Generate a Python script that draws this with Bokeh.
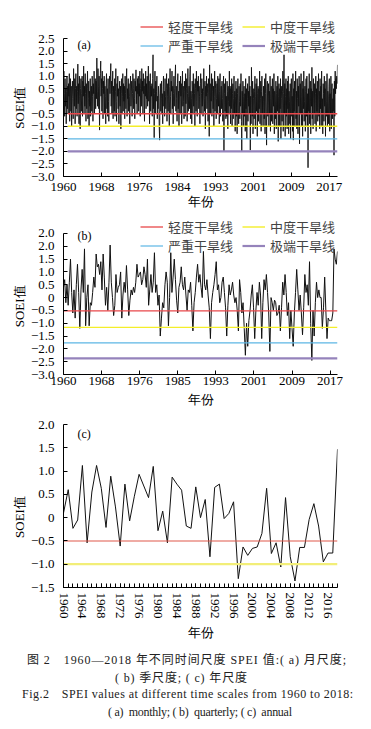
import numpy as np
from bokeh.plotting import figure
from bokeh.models import Range1d, FixedTicker, Legend, LegendItem, Label, Div
from bokeh.layouts import column
from bokeh.embed import file_html
from bokeh.resources import INLINE

SERIF = "Liberation Serif"
CJK = "Noto Sans CJK SC"

# ---------------- data ----------------
# (a) monthly SPEI 1960-2018, one row per year
spei_monthly = [
    0.8, 1.2, 0.3, -0.6, 0.9, -0.2, 0.5, -0.9, 0.4, 1.0, -0.3, 0.6,
    -0.5, 0.7, 0.2, 1.1, -0.8, 0.3, 0.9, -0.4, 0.6, -1.0, 0.2, 0.8,
    0.1, -0.7, 1.3, 0.4, -0.2, 0.9, -0.9, 0.5, 1.1, -0.3, 0.6, -0.6,
    0.4, 1.48, -0.1, 0.7, -0.9, 1.0, 0.2, -1.1, 0.5, 0.9, -0.4, 0.3,
    1.0, -0.6, 0.8, 0.2, 1.4, -0.5, 0.6, -0.2, 1.1, 0.3, -0.8, 0.7,
    -0.3, 0.5, 1.2, -0.7, 0.1, 0.8, -1.0, 0.4, -0.2, 0.9, -0.6, 0.3,
    0.6, -0.4, 1.0, 0.2, -0.8, 0.7, 0.3, 1.2, -0.5, 0.4, 0.9, -0.3,
    0.8, 0.1, 1.72, 0.4, -0.2, 1.3, 0.6, -0.3, 1.0, -1.15, 0.5, 1.1,
    1.6, 0.2, 0.9, -0.4, 1.2, 0.5, -0.7, 0.8, 0.3, 1.0, -0.5, 0.6,
    0.2, -0.9, 0.7, 1.1, -0.3, 0.5, -0.6, 0.9, 0.0, -0.8, 0.6, 1.0,
    0.3, 1.0, 1.5, -0.2, 0.8, -0.5, 0.4, 1.2, -0.7, 0.6, 0.1, -0.4,
    0.9, -0.6, 0.4, 1.3, 0.0, -0.8, 0.7, 0.2, 1.0, -0.3, 0.5, -0.9,
    0.4, 0.8, -0.2, 0.6, -1.1, 0.3, 0.9, -0.5, 0.2, 1.1, -0.4, 0.7,
    0.0, 0.6, -0.7, 1.0, 0.3, -0.3, 0.8, 1.3, -0.6, 0.5, 0.1, 0.9,
    -0.4, 0.7, 0.2, -0.9, 0.6, 1.0, -0.2, 0.4, 0.8, -0.6, 0.3, 1.1,
    0.5, -0.3, 0.9, 0.1, -0.7, 0.8, 0.4, 1.25, -0.1, 0.6, -0.5, 0.9,
    0.3, 1.0, -0.4, 0.7, 0.2, 1.2, -0.6, 0.5, 0.9, -0.2, 1.3, 0.4,
    0.8, -0.5, 1.1, 0.3, 0.6, -0.8, 0.9, 0.2, 1.2, -0.3, 0.7, 0.1,
    1.0, -0.2, 0.5, 1.4, 0.0, 0.8, -0.9, 0.4, 1.1, -0.4, 0.6, 0.2,
    0.7, -0.6, 0.9, 1.85, -0.3, 0.5, -1.45, 0.3, 1.2, -0.5, 0.8, 0.0,
    0.4, 1.0, -0.7, 0.2, -0.3, 0.6, 0.1, -1.0, -1.55, 0.3, 0.7, -0.4,
    0.1, 0.8, -0.5, 0.3, -0.9, 0.6, 1.0, -0.2, 0.4, -0.6, 0.9, 0.2,
    -0.3, 0.5, 1.1, -0.8, 0.2, 0.7, -0.4, 0.9, 0.0, -1.0, 0.6, 1.3,
    0.2, -0.5, 0.8, 0.4, 1.2, -0.3, 0.6, -0.9, 0.3, 1.0, -0.2, 0.5,
    0.9, 1.45, -0.4, 0.6, 0.1, -0.8, 0.7, 1.1, -0.3, 0.4, -1.0, 0.8,
    0.3, -0.5, 1.0, 0.2, 0.7, -0.9, 0.5, 1.2, -0.2, 0.6, 0.0, -0.7,
    0.8, 0.4, -0.6, 1.1, -0.1, 0.5, 0.9, -0.8, 0.3, 1.3, -0.4, 0.2,
    0.6, -0.3, 1.0, 1.4, -0.7, 0.4, 0.1, -0.9, 0.8, 0.3, -0.5, 1.1,
    -0.2, 0.7, 0.3, -1.0, 0.9, 0.5, -0.4, 1.2, 0.0, -0.6, 0.8, 0.4,
    1.0, -0.3, 0.6, 0.2, -0.9, 0.7, 1.1, -0.5, 0.3, 0.9, -0.2, 0.5,
    -0.6, 0.4, 1.3, 0.1, -0.4, 0.8, -1.1, 0.6, 0.2, 1.0, -0.3, 0.7,
    0.3, -0.8, 0.9, 0.5, -1.4, 1.45, 0.2, -0.5, 0.7, 0.0, 1.1, -0.6,
    0.4, 0.9, -0.3, 0.6, -1.0, 0.2, 1.2, -0.4, 0.5, 0.8, -0.7, 0.1,
    0.7, -0.5, 1.0, 0.3, -0.2, 0.9, -0.9, 0.4, 1.1, -0.6, 0.2, 0.6,
    -0.3, 0.8, 0.1, -0.8, 0.5, 1.0, -2.0, 0.3, 0.7, -0.4, 0.9, -0.7,
    0.2, -0.6, 0.8, 0.4, -1.1, 0.6, 0.0, -0.5, 1.2, -0.2, 0.5, -0.9,
    0.6, -0.3, 0.9, -1.0, 0.3, 0.7, -0.7, 0.1, 1.0, -0.5, 0.4, -1.2,
    0.2, 0.8, -0.6, 0.5, -1.3, 0.3, 0.9, -0.4, -0.9, 0.6, 0.0, -0.7,
    0.7, -0.2, 1.1, -0.8, -2.0, 0.4, -0.5, 0.8, -1.0, 0.2, 0.6, -0.6,
    0.3, -1.2, 0.9, -0.3, 0.5, -1.5, 0.1, 0.7, -0.8, 0.4, -0.2, 1.0,
    -0.5, 0.6, -1.95, 0.2, -0.9, 1.35, 0.3, -0.6, 0.8, -1.3, 0.1, 0.5,
    -0.7, 0.4, 1.0, -1.1, 0.2, 0.7, -0.4, 0.9, -1.4, 0.3, 0.6, -0.8,
    0.5, -0.3, 1.2, -0.9, 0.1, 0.8, -1.2, 0.4, 1.0, -0.5, 0.2, -1.0,
    0.6, 0.0, -0.7, 0.9, -1.3, 0.3, 1.1, -0.4, -1.75, 0.5, 0.8, -0.6,
    0.2, 0.7, -1.0, 0.4, -0.5, 1.0, -1.2, 0.1, 0.6, -0.8, 0.3, 0.9,
    -0.9, 0.5, -0.2, 1.1, -1.3, 0.4, 0.0, -0.7, 0.8, -1.1, 0.3, 0.6,
    -0.4, 1.0, -1.6, 0.2, 0.7, -1.0, 0.5, -0.3, 0.9, -1.5, 0.1, 0.6,
    -0.8, 0.4, 1.2, -1.2, 0.3, 1.85, -0.5, 0.7, -1.4, 0.2, 0.9, -0.6,
    0.5, -1.1, 0.8, -0.3, 1.0, -1.3, 0.4, 0.0, -0.9, 0.7, -1.5, 0.3,
    0.9, -0.6, 0.2, -1.2, 1.1, -1.55, 0.5, -0.4, 0.8, -1.0, 0.3, 1.2,
    -0.7, 0.4, -1.1, 0.9, 0.1, -1.3, 0.6, -0.2, 1.0, -1.7, 0.3, 0.7,
    -0.5, 1.1, -1.0, 0.2, 0.8, -1.4, 0.5, -0.3, 1.2, -0.8, 0.0, 0.6,
    -1.2, 0.4, 0.9, -0.6, 1.0, -1.0, 0.3, -2.65, 0.5, -0.4, 1.1, -0.9,
    0.2, 0.8, -1.3, 0.5, -0.2, 1.35, -0.7, 0.4, -1.1, 0.9, 0.1, -0.5,
    0.7, -0.9, 0.3, 1.0, -1.2, 0.5, -0.4, 0.8, -0.8, 0.2, 1.1, -0.6,
    0.4, -1.1, 0.9, -0.3, 0.6, -1.0, 1.2, -0.5, 0.1, -1.3, 0.7, 0.3,
    -0.8, 1.0, -0.2, 0.5, -1.4, 0.8, 0.0, -0.6, 1.1, -1.0, 0.4, 0.2,
    -0.9, 0.6, 0.9, -1.2, 0.3, -0.5, 1.0, -1.1, 0.4, 0.7, -0.7, 0.1,
    -0.4, 0.5, -2.15, 0.8, -0.6, 1.2, 0.3, 0.9, 0.5, 1.0, 0.7, 1.45,
]

# (b) quarterly SPEI 1960-2018, one row per year
spei_quarterly = [
    0.4, 0.7, -0.2, 0.5,
    -0.3, 0.6, 1.5, 0.2,
    -0.6, 0.3, -0.8, 0.5,
    1.3, 0.2, -1.2, 0.3,
    1.1, 0.2, 1.9, -1.1,
    0.0, 0.5, -1.1, -0.2,
    -0.3, 0.2, 0.8, 0.4,
    1.7, 1.2, 1.3, 0.9,
    1.4, 0.3, 1.7, 0.8,
    -0.3, 0.4, -0.5, 0.6,
    2.05, 0.6, 0.0, -0.7,
    -0.3, 0.9, 0.2, 0.4,
    0.5, 1.0, -0.8, 0.1,
    0.6, 0.2, 1.25, 0.3,
    -0.7, -0.1, 0.3, 0.1,
    0.4, 0.2, 0.6, 1.3,
    0.8, 0.9, 1.0, 0.5,
    0.7, 1.2, 0.9, 0.4,
    1.5, -0.3, 0.3, 0.9,
    0.2, 0.6, 1.75, 0.2,
    0.5, -0.3, 0.1, -1.5,
    -0.8, -0.2, -0.4, 0.5,
    1.0, 0.6, -1.1, 0.0,
    1.75, 0.2, 0.8, 1.5,
    0.7, -0.1, -0.6, 0.4,
    0.6, 1.2, 0.5, 0.3,
    0.8, 0.1, -0.5, 0.3,
    0.2, 0.6, -0.3, -1.3,
    -0.2, 0.2, 0.8, 1.3,
    0.6, 0.9, 0.4, 0.0,
    1.8, 0.5, 0.3, 0.7,
    0.1, -0.4, -1.6, -0.2,
    0.2, 0.5, 0.9, 1.4,
    0.3, 0.5, -0.2, 0.0,
    0.6, 0.8, 0.2, -0.4,
    -1.5, -0.3, 0.5, 0.1,
    0.3, 0.6, 0.1, -0.2,
    0.0, -0.5, -1.3, 0.7,
    0.2, -0.6, -0.2, -1.2,
    -2.25, -1.0, -1.9, -0.9,
    -0.5, 0.1, 0.5, -0.4,
    -1.6, -0.5, 0.2, -0.3,
    0.6, 0.1, -1.6, -0.2,
    0.7, 0.3, 0.9, 0.2,
    -0.6, -2.1, 0.0, -0.2,
    -0.5, -0.1, -0.2, -0.7,
    -0.6, -0.3, -1.3, -0.4,
    0.6, 0.1, 0.9, 0.2,
    -0.7, -0.2, -1.6, -0.5,
    -1.2, -1.9, -0.6, 0.2,
    1.1, 0.3, -0.5, 0.1,
    -0.6, -1.45, -0.4, 0.9,
    0.2, 0.5, -0.3, 1.4,
    -1.0, -2.45, -0.5, -1.5,
    -0.2, 0.6, 0.0, 0.3,
    0.0, 0.0, -1.2, -0.4,
    0.8, -0.5, -1.6, -0.8,
    -0.9, -0.9, -0.9, -0.6,
    1.9, 1.5, 1.3, 1.8,
]

# (c) annual SPEI
years_annual = list(range(1960, 2019))
spei_annual = [
    0.10, 0.60, -0.23, -0.05, 1.12, -0.54, 0.55, 1.12, 0.63, -0.21,
    0.89, 0.23, -0.61, 0.72, -0.07, 0.46, 0.93, 0.68, 0.43, 1.10,
    -0.28, 0.14, -0.54, 0.87, 0.72, 0.59, -0.18, -0.23, 0.66, 0.00,
    0.39, -0.84, 0.65, 0.72, -0.02, 0.09, 0.34, -1.31, -0.63, -0.81,
    -0.66, -0.63, -0.34, 0.63, -0.77, -0.54, -1.06, 0.43, -0.84, -1.36,
    -0.64, -0.64, -0.04, 0.30, -0.18, -0.95, -0.76, -0.76, 1.47,
]

threshold_names = ["轻度干旱线", "中度干旱线", "严重干旱线", "极端干旱线"]
thresholds_a = [-0.5, -1.0, -1.5, -2.0]
thresholds_b = [-0.52, -1.16, -1.77, -2.37]
thresholds_c = [-0.5, -1.0]
threshold_colors = ["#e8474a", "#f4ee2a", "#5cb6e4", "#9583bb"]
threshold_widths = [1.3, 1.4, 1.2, 2.2]

xtick_labels_a = ["1960", "1968", "1976", "1984", "1993", "2001", "2009", "2017"]
xtick_labels_b = ["1960", "1968", "1976", "1985", "1993", "2001", "2009", "2017"]
ytick_vals_ab = [-3.0, -2.5, -2.0, -1.5, -1.0, -0.5, 0.0, 0.5, 1.0, 1.5, 2.0, 2.5]
ytick_labels_a = ["−3.0", "−2.5", "−2.0", "−1.5", "−1.0", "−0.5", "0", "0.5", "1.0", "1.5", "2.0", "2.5"]
ytick_labels_b = ["−3.0", "−2.5", "−2.0", "−1.5", "−1.0", "−0.5", "0", "0.5", "1.0", "1.5", "2.0", "2.0"]
ytick_vals_c = [-1.5, -1.0, -0.5, 0.0, 0.5, 1.0, 1.5, 2.0]
ytick_labels_c = ["−1.5", "−1.0", "−0.5", "0", "0.5", "1.0", "1.5", "2.0"]
xtick_years_c = list(range(1960, 2017, 4))

caption_lines = [
    "图 2　1960—2018 年不同时间尺度 SPEI 值:( a) 月尺度;",
    "( b) 季尺度; ( c) 年尺度",
    "Fig.2　SPEI values at different time scales from 1960 to 2018:",
    "( a)  monthly; ( b)  quarterly; ( c)  annual",
]

FW = 274          # frame width (px)
LEFT = 63         # frame left edge on the page


def base_fig(frame_h, top, bottom, xr, yr, ybounds, ylabel_pad):
    p = figure(frame_width=FW, frame_height=frame_h, x_range=xr, y_range=yr,
               title=None, output_backend="svg", toolbar_location=None,
               min_border_left=LEFT, min_border_right=26,
               min_border_top=top, min_border_bottom=bottom)
    p.outline_line_color = None
    p.grid.visible = False
    p.background_fill_color = "white"
    p.border_fill_color = "white"
    for ax in (p.xaxis[0], p.yaxis[0]):
        ax.axis_line_color = "black"
        ax.axis_line_width = 1
        ax.major_tick_in = 4
        ax.major_tick_out = 0
        ax.minor_tick_in = 0
        ax.minor_tick_out = 0
        ax.major_tick_line_color = "black"
        ax.major_label_text_font = SERIF
        ax.major_label_text_font_size = "13px"
        ax.major_label_text_color = "black"
        ax.axis_label_text_font = SERIF
        ax.axis_label_text_font_size = "13px"
        ax.axis_label_text_font_style = "normal"
        ax.axis_label_text_color = "black"
    p.yaxis[0].bounds = ybounds
    # trailing spaces move the visible label down to the centre of the drawn axis
    p.yaxis[0].axis_label = "SOEI值" + ylabel_pad
    p.yaxis[0].major_label_standoff = 9
    p.yaxis[0].axis_label_standoff = 1
    p.xaxis[0].axis_label = "年份"
    return p


def add_legend(p, renderers, vy):
    items = [LegendItem(label=n, renderers=[r]) for n, r in zip(threshold_names, renderers)]
    lg = Legend(items=items, location=(77, vy), orientation="horizontal", ncols=2,
                label_text_font=CJK, label_text_font_size="13px",
                glyph_width=23, glyph_height=15, label_height=15, label_width=74,
                label_standoff=5, spacing=-4, padding=0, margin=0,
                border_line_alpha=0, background_fill_alpha=0)
    p.add_layout(lg)


def panel_label(p, x, y, txt):
    p.add_layout(Label(x=x, y=y, text=txt, text_font=SERIF, text_font_size="12px",
                       text_baseline="middle", text_align="left", text_color="black"))


PAD_A = "\u2003\u2003\u2009"
PAD_B = "\u2003\u2002\u2009\u2009"
PAD_C = "\u2003\u2002\u2009"

# ---------- (a) ----------
xm = np.arange(len(spei_monthly)) / 12.0
pa = base_fig(166, 10, 37, Range1d(0, xm[-1]), Range1d(-3.0, 3.616), (-3.0, 2.5), PAD_A)
pa.line(xm, spei_monthly, line_color="#111111", line_width=0.9)
rs = []
for lv, c, w in zip(thresholds_a, threshold_colors, threshold_widths):
    rs.append(pa.line([11 / 12.0, xm[-1]], [lv, lv], line_color=c, line_width=w))
xt = [k * 98 / 12.0 for k in range(len(xtick_labels_a))]
pa.xaxis[0].ticker = FixedTicker(ticks=xt)
pa.xaxis[0].major_label_overrides = {t: l for t, l in zip(xt, xtick_labels_a)}
pa.xaxis[0].major_label_standoff = 6
pa.xaxis[0].axis_label_standoff = 0
pa.yaxis[0].ticker = FixedTicker(ticks=ytick_vals_ab)
pa.yaxis[0].major_label_overrides = {t: l for t, l in zip(ytick_vals_ab, ytick_labels_a)}
add_legend(pa, rs, 121)
panel_label(pa, 3.0, 2.25, "(a)")

# ---------- (b) ----------
xq = np.arange(len(spei_quarterly)) / 4.0
pb = base_fig(161, 0, 39, Range1d(0, xq[-1]), Range1d(-3.0, 3.28), (-3.0, 2.5), PAD_B)
pb.line(xq, spei_quarterly, line_color="#111111", line_width=1.0)
rs = []
for lv, c, w in zip(thresholds_b, threshold_colors, threshold_widths):
    rs.append(pb.line([0, xq[-1]], [lv, lv], line_color=c, line_width=w))
pb.xaxis[0].ticker = FixedTicker(ticks=xt)
pb.xaxis[0].major_label_overrides = {t: l for t, l in zip(xt, xtick_labels_b)}
pb.xaxis[0].major_label_standoff = 2
pb.xaxis[0].axis_label_standoff = 4
pb.yaxis[0].ticker = FixedTicker(ticks=ytick_vals_ab)
pb.yaxis[0].major_label_overrides = {t: l for t, l in zip(ytick_vals_ab, ytick_labels_b)}
add_legend(pb, rs, 119)
panel_label(pb, 3.0, 2.42, "(b)")

# ---------- (c) ----------
pc = base_fig(163, 11, 56, Range1d(years_annual[0], years_annual[-1]), Range1d(-1.5, 2.0),
              (-1.5, 2.0), PAD_C)
pc.line(years_annual, spei_annual, line_color="#111111", line_width=1.0)
pc.line([years_annual[0], years_annual[-1]], [thresholds_c[0]] * 2, line_color="#e0584a", line_width=1.1)
pc.line([years_annual[0], years_annual[-1]], [thresholds_c[1]] * 2, line_color="#f2ee78", line_width=2.2)
pc.xaxis[0].ticker = FixedTicker(ticks=xtick_years_c, minor_ticks=years_annual)
pc.xaxis[0].minor_tick_in = 4
pc.xaxis[0].minor_tick_out = 0
pc.xaxis[0].minor_tick_line_color = "black"
pc.xaxis[0].major_label_orientation = "vertical"
pc.xaxis[0].major_label_standoff = 5
pc.xaxis[0].axis_label_standoff = 3
pc.yaxis[0].ticker = FixedTicker(ticks=ytick_vals_c)
pc.yaxis[0].major_label_overrides = {t: l for t, l in zip(ytick_vals_c, ytick_labels_c)}
panel_label(pc, 1962.96, 1.8, "(c)")

# ---------- caption (inline svg text, fitted to the reference widths) ----------
cap_x = [22, 110, 17, 103]
cap_y = [11.7, 29.5, 46, 63.7]
cap_len = [319, 132, 331, 184]
texts = "".join(
    f'<text x="{x}" y="{y}" textLength="{L}" lengthAdjust="spacing" '
    f'dominant-baseline="central" style="white-space:pre">{s}</text>'
    for s, x, y, L in zip(caption_lines, cap_x, cap_y, cap_len)
)
cap = Div(width=363, height=78,
          text=f'<svg xmlns="http://www.w3.org/2000/svg" width="363" height="78" '
               f"style=\"font-family:'Liberation Serif','Noto Sans CJK SC';font-size:12px;fill:#222\">"
               f"{texts}</svg>")

layout = column(pa, pb, pc, cap, spacing=0)
open("out.html", "w").write(file_html(layout, INLINE))
